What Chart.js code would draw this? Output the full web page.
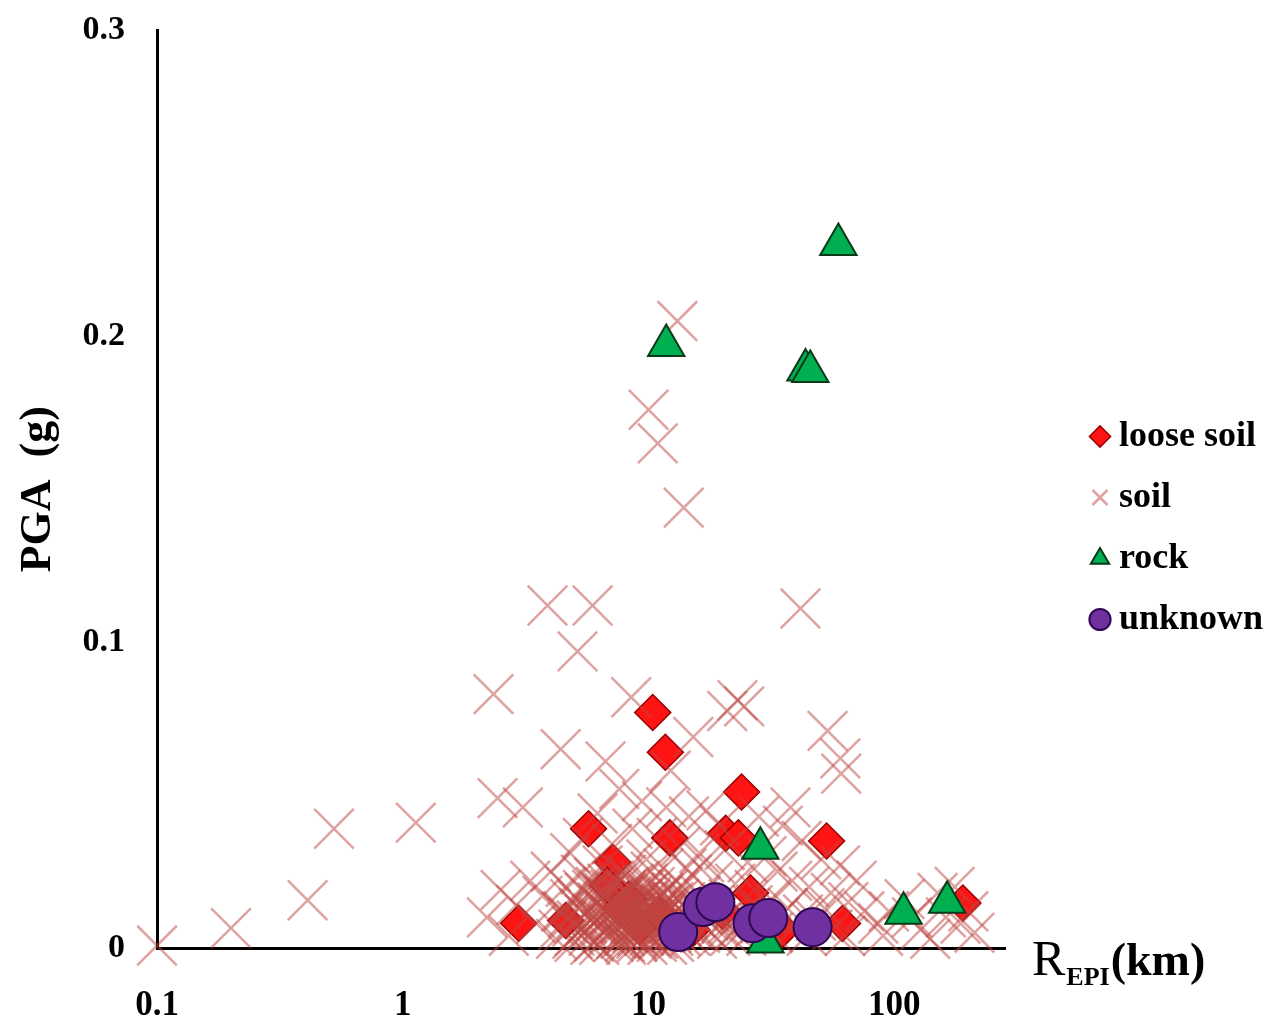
<!DOCTYPE html>
<html><head><meta charset="utf-8">
<script src="https://cdn.jsdelivr.net/npm/chart.js@4.4.1/dist/chart.umd.min.js"></script>
<style>html,body{margin:0;padding:0;background:#fff;} canvas{display:block;}</style>
</head><body>
<canvas id="c" width="1280" height="1025"></canvas>
<script>
// ---------------- DATA ----------------
const seriesNames = ['loose soil', 'soil', 'rock', 'unknown'];

const looseSoilR   = [10.4, 11.7, 23.9, 5.70, 12.2, 20.6, 23.2, 53, 7.14, 6.8, 2.96, 26, 61.5, 190, 7.6, 9.2, 11, 15, 20, 35, 8.3, 4.6];
const looseSoilPGA = [0.077, 0.064, 0.051, 0.039, 0.036, 0.0375, 0.036, 0.035, 0.028, 0.0205, 0.0081, 0.018, 0.008, 0.0147, 0.013, 0.007, 0.011, 0.006, 0.012, 0.006, 0.016, 0.009];

const soilR = [0.1, 0.2, 0.41, 0.525, 1.13, 2.34, 2.43, 3.08, 3.88, 5.92, 5.14, 4.39, 6.68, 13.1, 10.0, 10.9, 13.9, 41.5, 53.5, 60.3, 60.8, 37.8, 23.0, 20.9, 24.5, 15.2, 8.5, 12.3,
  7.6, 9.4, 11.8, 14.6, 17.2, 19.5, 8.6, 10.8, 13.4, 16.1, 20.4, 25.3, 30.2, 33.5, 38.4, 45.0, 55.2, 65.0, 75.5, 86.0, 70.3, 60.1, 50.4, 42.0, 35.2, 28.1,
  6.2, 5.4, 4.8, 7.1, 6.5, 9.8, 11.5, 15.0, 18.3, 22.5, 27.0, 31.5, 36.8, 42.5, 48.0, 56.0, 63.0, 90.0,
  95, 110, 128, 150, 162, 176, 186, 200, 212, 140, 118,
  2.2, 2.5, 2.7, 2.9, 3.3, 3.5, 3.7, 4.0, 4.2, 4.5, 4.6, 4.9, 5.1, 5.3, 5.5, 5.7, 5.9,
  6.1, 6.3, 6.6, 6.8, 7.0, 7.2, 7.4, 7.7, 7.9, 8.1, 8.3, 8.6, 8.8, 9.0, 9.2, 9.5, 9.7, 10.0, 10.3, 10.6, 10.9, 11.2, 11.6, 12.0, 12.4, 12.9, 13.5, 14.1, 14.8, 15.5, 16.3, 17.0, 18.0, 19.0, 20.0, 21.2, 22.4, 23.8, 25.0, 26.5, 28.5, 32.0, 34.0, 39.0, 44.0, 52.0,
  7.5, 8.0, 8.9, 9.9, 6.9, 11.0, 12.7, 13.8, 6.4, 7.8, 10.2, 5.8, 14.3, 16.8];
const soilPGA = [0.0008, 0.0065, 0.0156, 0.039, 0.041, 0.083, 0.049, 0.046, 0.112, 0.112, 0.097, 0.065, 0.061, 0.205, 0.176, 0.165, 0.144, 0.111, 0.071, 0.062, 0.057, 0.046, 0.081, 0.0775, 0.079, 0.069, 0.082, 0.058,
  0.052, 0.048, 0.046, 0.043, 0.045, 0.040, 0.039, 0.036, 0.033, 0.031, 0.032, 0.028, 0.030, 0.025, 0.022, 0.020, 0.018, 0.015, 0.012, 0.008, 0.022, 0.027, 0.029, 0.035, 0.040, 0.043,
  0.044, 0.036, 0.031, 0.034, 0.027, 0.029, 0.026, 0.024, 0.022, 0.021, 0.019, 0.016, 0.013, 0.011, 0.009, 0.006, 0.004, 0.004,
  0.012, 0.016, 0.006, 0.018, 0.010, 0.020, 0.008, 0.012, 0.005, 0.003, 0.010,
  0.010, 0.019, 0.004, 0.014, 0.022, 0.008, 0.017, 0.025, 0.003, 0.012, 0.020, 0.007, 0.016, 0.024, 0.011, 0.004, 0.019,
  0.009, 0.014, 0.005, 0.021, 0.011, 0.016, 0.003, 0.008, 0.013, 0.019, 0.006, 0.010, 0.015, 0.004, 0.022, 0.009, 0.013, 0.006, 0.017, 0.011, 0.003, 0.014, 0.008, 0.019, 0.005, 0.012, 0.009, 0.015, 0.004, 0.010, 0.017, 0.007, 0.013, 0.003, 0.009, 0.016, 0.006, 0.011, 0.004, 0.014, 0.008, 0.005, 0.010, 0.007, 0.004, 0.013,
  0.006, 0.002, 0.012, 0.018, 0.013, 0.007, 0.002, 0.020, 0.018, 0.024, 0.025, 0.001, 0.026, 0.028];

// dense core of soil records (about 4-24 km)
const soilDenseR = [4.3, 4.7, 5.0, 5.2, 5.6, 5.9, 6.0, 6.2, 6.5, 6.7, 6.9, 7.1, 7.3, 7.6, 7.8, 8.0, 8.2, 8.4, 8.7, 8.9,
  9.1, 9.3, 9.6, 9.8, 10.1, 10.4, 10.7, 11.1, 11.4, 11.8, 12.2, 12.6, 13.1, 13.6, 14.4, 15.2, 16.0, 17.5,
  5.5, 6.1, 6.6, 7.0, 7.4, 7.9, 8.3, 8.8, 9.4, 9.9, 10.5, 11.3, 12.1, 13.3, 14.6, 16.5, 18.8, 21.0, 24.0,
  6.3, 7.2, 8.1, 9.0, 9.9, 10.8, 11.9, 4.9, 5.3, 7.7, 8.6, 9.6, 12.8,
  4.4, 4.8, 5.1, 5.4, 5.7, 6.0, 6.3, 6.6, 6.9, 7.2, 7.5, 7.8, 8.1, 8.4, 8.7, 9.0, 9.3, 9.6, 9.9, 10.2,
  10.6, 11.0, 11.5, 12.0, 12.6, 13.2, 14.0, 15.0, 16.2, 17.6, 19.2, 21.5, 5.0, 6.4, 7.3, 8.2, 9.1, 10.3, 11.7, 13.5];
const soilDensePGA = [0.006, 0.010, 0.004, 0.013, 0.008, 0.011, 0.002, 0.015, 0.009, 0.012, 0.005, 0.014, 0.007, 0.010, 0.016, 0.004, 0.012, 0.008, 0.011, 0.003,
  0.014, 0.006, 0.010, 0.013, 0.004, 0.009, 0.012, 0.006, 0.010, 0.013, 0.008, 0.004, 0.011, 0.007, 0.010, 0.006, 0.013, 0.009,
  0.018, 0.020, 0.017, 0.019, 0.021, 0.017, 0.020, 0.018, 0.016, 0.021, 0.015, 0.017, 0.014, 0.016, 0.012, 0.011, 0.010, 0.008, 0.006,
  0.001, 0.002, 0.001, 0.002, 0.001, 0.002, 0.001, 0.003, 0.006, 0.003, 0.005, 0.004, 0.006,
  0.012, 0.016, 0.009, 0.019, 0.006, 0.023, 0.010, 0.018, 0.008, 0.022, 0.013, 0.017, 0.024, 0.010, 0.021, 0.015, 0.007, 0.019, 0.011, 0.016,
  0.020, 0.009, 0.018, 0.012, 0.015, 0.019, 0.008, 0.014, 0.005, 0.012, 0.007, 0.004, 0.002, 0.007, 0.009, 0.005, 0.008, 0.003, 0.005, 0.004];

const rockR   = [59.2, 11.8, 43.5, 45.5, 28.5, 109, 164, 29.9];
const rockPGA = [0.230, 0.197, 0.189, 0.1885, 0.0326, 0.0114, 0.015, 0.002];

const unknownR   = [13.2, 16.6, 18.7, 26.5, 30.7, 46.5];
const unknownPGA = [0.0052, 0.0134, 0.015, 0.0081, 0.0098, 0.0068];

const xTickValues = [0.1, 1, 10, 100];
const xTickLabels = ['0.1', '1', '10', '100'];
const yTickValues = [0, 0.1, 0.2, 0.3];
const yTickLabels = ['0', '0.1', '0.2', '0.3'];

// ---------------- CHART ----------------
const SERIF = '"Liberation Serif", "Times New Roman", serif';
function pts(xs, ys) { return xs.map((x, i) => ({ x: x, y: ys[i] })); }

const bgPlugin = {
  id: 'bg',
  beforeDraw(chart) {
    const c = chart.ctx; c.save(); c.fillStyle = '#fff';
    c.fillRect(0, 0, chart.width, chart.height); c.restore();
  }
};

const legendLayout = {
  id: 'legendLayout',
  beforeLayout(chart) {
    const lg = chart.legend;
    if (lg && !lg._patched) {
      const orig = lg.fit.bind(lg);
      lg.fit = function () { orig(); this.width = 275; };
      lg._patched = true;
    }
  },
  afterLayout(chart) {
    const lg = chart.legend;
    if (lg) { lg.left += 69; lg.right += 69; lg.top += 2; lg.bottom += 2; }
  }
};

const xTitlePlugin = {
  id: 'xTitle',
  afterDraw(chart) {
    const c = chart.ctx;
    const x0 = chart.chartArea.right + 27;
    const yb = chart.scales.y.getPixelForValue(0) + 27;
    c.save();
    c.fillStyle = '#000'; c.textAlign = 'left'; c.textBaseline = 'alphabetic';
    c.font = '50px ' + SERIF;
    c.fillText('R', x0, yb);
    let x = x0 + c.measureText('R').width + 1;
    c.font = 'bold 26px ' + SERIF;
    c.fillText('EPI', x, yb + 10);
    x += c.measureText('EPI').width + 1;
    c.font = 'bold 46px ' + SERIF;
    c.fillText('(km)', x, yb);
    c.restore();
  }
};

new Chart(document.getElementById('c'), {
  type: 'scatter',
  data: {
    datasets: [
      { label: seriesNames[0], data: pts(looseSoilR, looseSoilPGA), pointStyle: 'rectRot', pointRadius: 18,
        backgroundColor: '#FF1414', borderColor: '#9A0000', borderWidth: 1.5, order: 4, clip: false },
      { label: seriesNames[1], data: pts(soilR, soilPGA).concat(pts(soilDenseR, soilDensePGA)), pointStyle: 'crossRot', pointRadius: 28,
        backgroundColor: 'rgba(190,70,65,0.5)', borderColor: 'rgba(190,70,65,0.5)', borderWidth: 2.5, order: 3, clip: false },
      { label: seriesNames[2], data: pts(rockR, rockPGA), pointStyle: 'triangle', pointRadius: 21,
        backgroundColor: '#00B050', borderColor: '#0A3A1A', borderWidth: 2, order: 2, clip: false },
      { label: seriesNames[3], data: pts(unknownR, unknownPGA), pointStyle: 'circle', pointRadius: 19,
        backgroundColor: '#7030A0', borderColor: '#2E0854', borderWidth: 2, order: 1, clip: false }
    ]
  },
  options: {
    responsive: false,
    animation: false,
    devicePixelRatio: 1,
    events: [],
    layout: { padding: { top: 27, right: 0, bottom: 0, left: 0 } },
    plugins: {
      tooltip: { enabled: false },
      legend: {
        position: 'right',
        align: 'center',
        labels: {
          sort: (a, b) => a.datasetIndex - b.datasetIndex,
          usePointStyle: true,
          boxWidth: 2, boxHeight: 15,
          padding: 25,
          color: '#000',
          font: { family: SERIF, size: 36, weight: 'bold' }
        }
      }
    },
    scales: {
      x: {
        type: 'logarithmic',
        min: 0.1, max: 282,
        afterBuildTicks: (s) => { s.ticks = xTickValues.map(v => ({ value: v })); },
        afterFit: (s) => { s.height = 77; s.paddingLeft = 0; s.paddingRight = 0; },
        ticks: {
          callback: (v) => xTickLabels[xTickValues.indexOf(v)],
          color: '#000', padding: 37, maxRotation: 0, autoSkip: false,
          font: { family: SERIF, size: 35, weight: 'bold' }
        },
        grid: { display: true, drawOnChartArea: false, drawTicks: false },
        border: { display: true, color: '#000', width: 3 }
      },
      y: {
        type: 'linear',
        min: 0, max: 0.3,
        afterBuildTicks: (s) => { s.ticks = yTickValues.map(v => ({ value: v })); },
        afterFit: (s) => { s.width = 157; s.paddingTop = 0; s.paddingBottom = 0; },
        ticks: {
          callback: (v) => yTickLabels[yTickValues.indexOf(v)],
          color: '#000', padding: 32,
          font: { family: SERIF, size: 34, weight: 'bold' }
        },
        title: {
          display: true, text: 'PGA  (g)', color: '#000',
          font: { family: SERIF, size: 44, weight: 'bold' },
          padding: { top: 12, bottom: 0 }
        },
        grid: { display: true, drawOnChartArea: false, drawTicks: false },
        border: { display: true, color: '#000', width: 3 }
      }
    }
  },
  plugins: [bgPlugin, legendLayout, xTitlePlugin]
});
</script>
</body></html>
